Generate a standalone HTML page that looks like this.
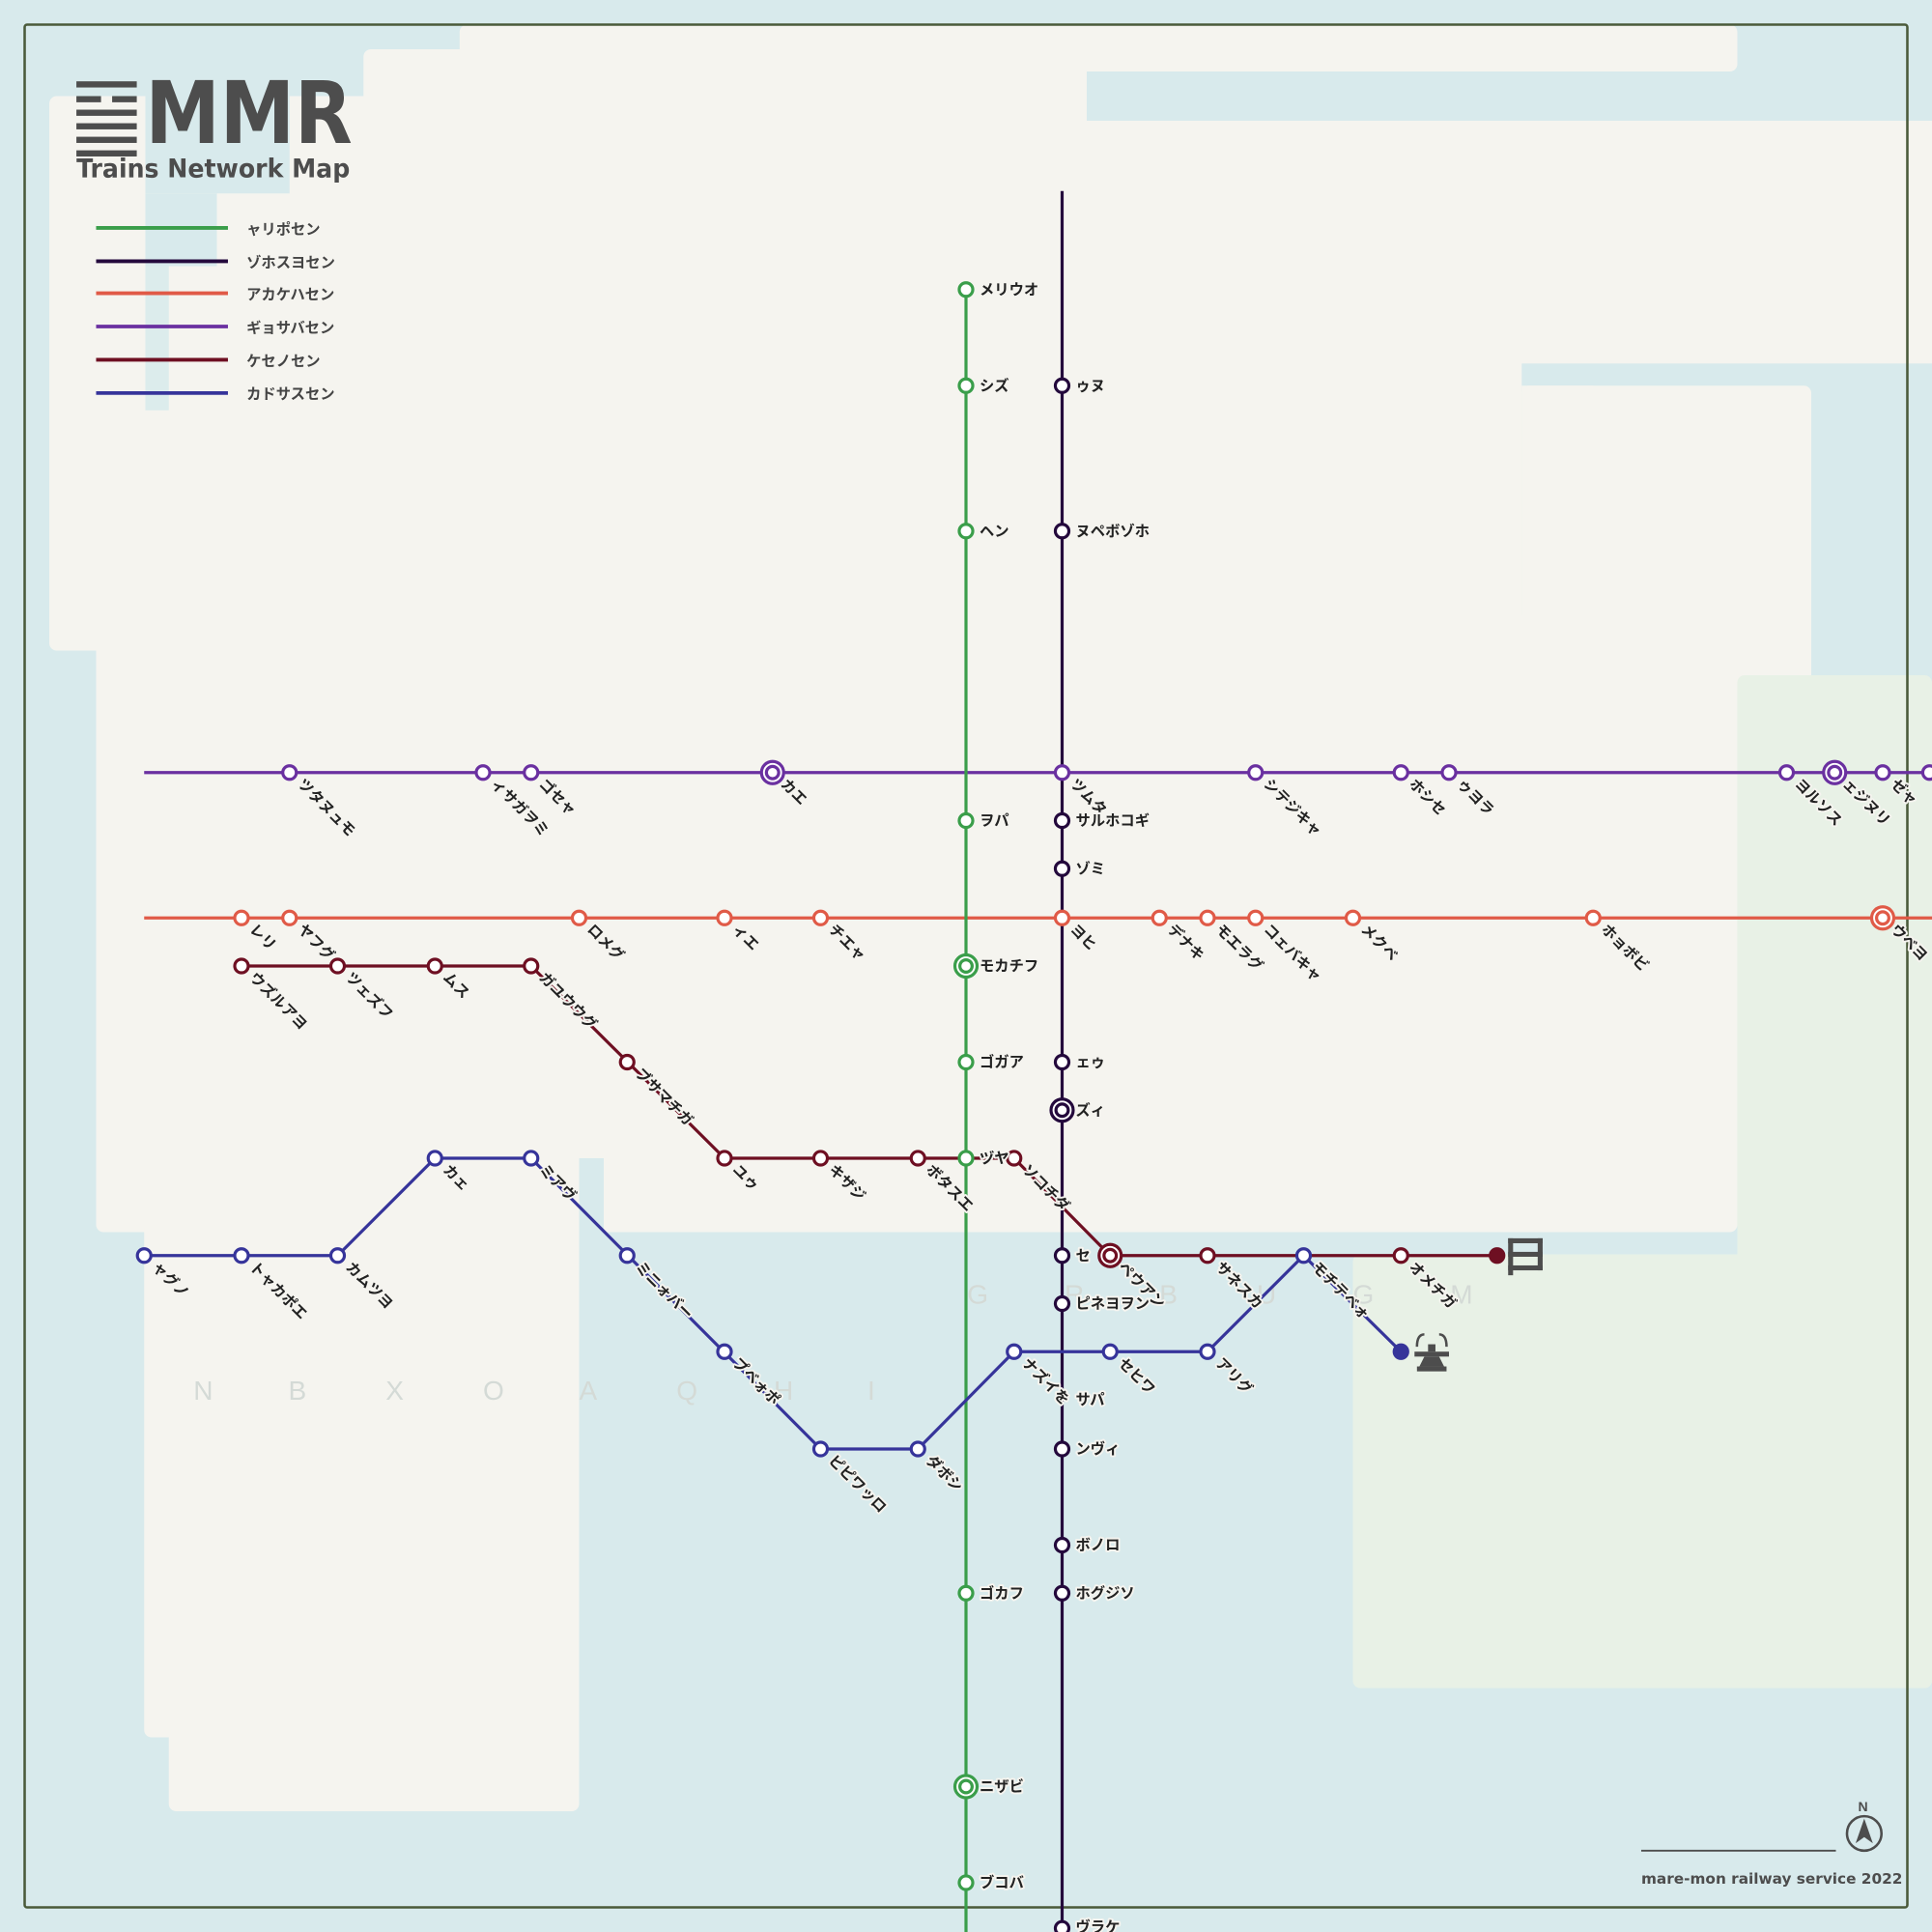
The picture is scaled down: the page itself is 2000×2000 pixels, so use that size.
<!DOCTYPE html>
<html><head><meta charset="utf-8"><style>
html,body{margin:0;padding:0;background:#d8eaec}
svg{display:block}
.l{font-family:"Liberation Sans","Noto Sans CJK JP",sans-serif;font-size:12px;font-weight:bold;fill:#222;stroke:#f5f4ef;stroke-width:3;paint-order:stroke;stroke-linejoin:round}
.g{font-family:"Liberation Sans",sans-serif;font-size:22px;fill:#d4dad6}
circle{fill:#fff;stroke-width:2.5}
</style></head><body>
<svg width="2000" height="2000" viewBox="0 0 1568 1568" xmlns="http://www.w3.org/2000/svg">
<rect width="1568" height="1568" fill="#d8eaec"/>
<g fill="#f5f4ef">
<rect x="373" y="20" width="1037" height="38" rx="6"/>
<rect x="295" y="40" width="587" height="280" rx="6"/>
<rect x="882" y="98" width="686" height="197"/>
<rect x="175" y="155" width="1060" height="400" rx="6"/>
<rect x="1235" y="313" width="58" height="240"/>
<rect x="1235" y="313" width="235" height="240" rx="6"/>
<rect x="40" y="78" width="700" height="450" rx="6"/>
<rect x="78" y="500" width="1332" height="500" rx="6"/>
<rect x="1400" y="540" width="70" height="20"/>
<rect x="117" y="990" width="353" height="420" rx="6"/>
<rect x="137" y="1380" width="333" height="90" rx="6"/>
</g>
<rect x="118" y="0" width="117" height="157" fill="#d8eaec"/>
<rect x="118" y="157" width="58" height="59" fill="#d8eaec"/>
<rect x="118" y="216" width="19" height="117" fill="#dcecec"/>
<rect x="470" y="940" width="20" height="62" fill="#d8eaec"/>
<g fill="#e8f1e6">
<rect x="1410" y="548" width="158" height="822" rx="6"/>
<rect x="1098" y="1018" width="470" height="352" rx="6"/>
</g>
<rect x="20" y="20" width="1528" height="1528" fill="none" stroke="#4a5a3a" stroke-width="2" rx="2"/>

<g fill="#4d4d4d">
<rect x="62" y="66" width="49" height="5"/><rect x="62" y="78" width="20" height="5"/><rect x="91" y="78" width="20" height="5"/>
<rect x="62" y="89" width="49" height="5"/><rect x="62" y="100" width="49" height="5"/><rect x="62" y="111" width="49" height="5"/><rect x="62" y="122" width="49" height="5"/>
</g>
<text x="118" y="116" font-family="DejaVu Sans,Liberation Sans,sans-serif" font-size="70" font-weight="bold" fill="#4d4d4d" textLength="168" lengthAdjust="spacingAndGlyphs">MMR</text>
<text x="62" y="144" font-family="DejaVu Sans,Liberation Sans,sans-serif" font-size="21" font-weight="bold" fill="#4d4d4d" textLength="222" lengthAdjust="spacingAndGlyphs">Trains Network Map</text>
<g stroke-width="3">
<line x1="78" y1="185" x2="185" y2="185" stroke="#3a9e4a"/>
<line x1="78" y1="212" x2="185" y2="212" stroke="#24093c"/>
<line x1="78" y1="238" x2="185" y2="238" stroke="#e05a47"/>
<line x1="78" y1="265" x2="185" y2="265" stroke="#6a30a0"/>
<line x1="78" y1="292" x2="185" y2="292" stroke="#6e0f22"/>
<line x1="78" y1="319" x2="185" y2="319" stroke="#36349a"/>
</g>
<g class="l" style="stroke:none;fill:#444">
<text x="200" y="190">ャリポセン</text><text x="200" y="217">ゾホスヨセン</text><text x="200" y="243">アカケハセン</text>
<text x="200" y="270">ギョサバセン</text><text x="200" y="297">ケセノセン</text><text x="200" y="324">カドサスセン</text>
</g>

<g class="g">
<text x="157" y="1136">N</text><text x="234" y="1136">B</text><text x="313" y="1136">X</text><text x="392" y="1136">O</text><text x="470" y="1136">A</text><text x="549" y="1136">Q</text><text x="628" y="1136">H</text><text x="704" y="1136">I</text>
<text x="785" y="1058">G</text><text x="864" y="1058">R</text><text x="941" y="1058">B</text><text x="1020" y="1058">U</text><text x="1098" y="1058">G</text><text x="1177" y="1058">M</text>
</g>

<g fill="none" stroke-width="2.5" stroke-linejoin="round">
<line x1="117" y1="627" x2="1568" y2="627" stroke="#6a30a0"/>
<line x1="117" y1="745" x2="1568" y2="745" stroke="#e05a47"/>
<line x1="784" y1="235" x2="784" y2="1568" stroke="#3a9e4a"/>
<line x1="862" y1="155" x2="862" y2="1568" stroke="#24093c"/>
<polyline points="196,784 431,784 588,940 823,940 901,1019 1215,1019" stroke="#6e0f22"/>
<polyline points="117,1019 274,1019 353,940 431,940 666,1176 745,1176 823,1097 980,1097 1058,1019 1137,1097" stroke="#36349a"/>
</g>

<g stroke="#3a9e4a">
<circle cx="784" cy="235" r="5.5"/><circle cx="784" cy="313" r="5.5"/><circle cx="784" cy="431" r="5.5"/><circle cx="784" cy="666" r="5.5"/>
<circle cx="784" cy="784" r="9"/><circle cx="784" cy="784" r="5"/><circle cx="784" cy="862" r="5.5"/><circle cx="784" cy="940" r="5.5"/>
<circle cx="784" cy="1293" r="5.5"/><circle cx="784" cy="1450" r="9"/><circle cx="784" cy="1450" r="5"/><circle cx="784" cy="1528" r="5.5"/>
</g>
<g stroke="#24093c">
<circle cx="862" cy="313" r="5.5"/><circle cx="862" cy="431" r="5.5"/><circle cx="862" cy="666" r="5.5"/><circle cx="862" cy="705" r="5.5"/>
<circle cx="862" cy="862" r="5.5"/><circle cx="862" cy="901" r="9"/><circle cx="862" cy="901" r="5"/><circle cx="862" cy="1019" r="5.5"/>
<circle cx="862" cy="1058" r="5.5"/><circle cx="862" cy="1176" r="5.5"/><circle cx="862" cy="1254" r="5.5"/><circle cx="862" cy="1293" r="5.5"/><circle cx="862" cy="1565" r="5.5"/>
</g>
<g stroke="#6a30a0">
<circle cx="235" cy="627" r="5.5"/><circle cx="392" cy="627" r="5.5"/><circle cx="431" cy="627" r="5.5"/><circle cx="627" cy="627" r="9"/><circle cx="627" cy="627" r="5"/>
<circle cx="862" cy="627" r="5.5"/><circle cx="1019" cy="627" r="5.5"/><circle cx="1137" cy="627" r="5.5"/><circle cx="1176" cy="627" r="5.5"/>
<circle cx="1450" cy="627" r="5.5"/><circle cx="1489" cy="627" r="9"/><circle cx="1489" cy="627" r="5"/><circle cx="1528" cy="627" r="5.5"/><circle cx="1566" cy="627" r="5.5"/>
</g>
<g stroke="#e05a47">
<circle cx="196" cy="745" r="5.5"/><circle cx="235" cy="745" r="5.5"/><circle cx="470" cy="745" r="5.5"/><circle cx="588" cy="745" r="5.5"/><circle cx="666" cy="745" r="5.5"/>
<circle cx="862" cy="745" r="5.5"/><circle cx="941" cy="745" r="5.5"/><circle cx="980" cy="745" r="5.5"/><circle cx="1019" cy="745" r="5.5"/><circle cx="1098" cy="745" r="5.5"/>
<circle cx="1293" cy="745" r="5.5"/><circle cx="1528" cy="745" r="9"/><circle cx="1528" cy="745" r="5"/>
</g>
<g stroke="#6e0f22">
<circle cx="196" cy="784" r="5.5"/><circle cx="274" cy="784" r="5.5"/><circle cx="353" cy="784" r="5.5"/><circle cx="431" cy="784" r="5.5"/><circle cx="509" cy="862" r="5.5"/>
<circle cx="588" cy="940" r="5.5"/><circle cx="666" cy="940" r="5.5"/><circle cx="745" cy="940" r="5.5"/><circle cx="823" cy="940" r="5.5"/>
<circle cx="901" cy="1019" r="9"/><circle cx="901" cy="1019" r="5"/><circle cx="980" cy="1019" r="5.5"/><circle cx="1137" cy="1019" r="5.5"/>
<circle cx="1215" cy="1019" r="5.5" style="fill:#6e0f22"/>
</g>
<g stroke="#36349a">
<circle cx="117" cy="1019" r="5.5"/><circle cx="196" cy="1019" r="5.5"/><circle cx="274" cy="1019" r="5.5"/><circle cx="353" cy="940" r="5.5"/><circle cx="431" cy="940" r="5.5"/>
<circle cx="509" cy="1019" r="5.5"/><circle cx="588" cy="1097" r="5.5"/><circle cx="666" cy="1176" r="5.5"/><circle cx="745" cy="1176" r="5.5"/><circle cx="823" cy="1097" r="5.5"/>
<circle cx="901" cy="1097" r="5.5"/><circle cx="980" cy="1097" r="5.5"/><circle cx="1058" cy="1019" r="5.5"/><circle cx="1137" cy="1097" r="5.5" style="fill:#36349a"/>
</g>

<g class="l">
<text x="795" y="239">メリウオ</text><text x="795" y="317">シズ</text><text x="795" y="435">ヘン</text><text x="795" y="670">ヲパ</text>
<text x="795" y="788">モカチフ</text><text x="795" y="866">ゴガア</text><text x="795" y="944">ヅヤ</text><text x="795" y="1297">ゴカフ</text>
<text x="795" y="1454">ニザビ</text><text x="795" y="1532">ブコバ</text>
<text x="873" y="317">ゥヌ</text><text x="873" y="435">ヌペボゾホ</text><text x="873" y="670">サルホコギ</text><text x="873" y="709">ゾミ</text>
<text x="873" y="866">ェゥ</text><text x="873" y="905">ズィ</text><text x="873" y="1023">セ</text><text x="873" y="1062">ピネヨヲン</text>
<text x="873" y="1140">サパ</text><text x="873" y="1180">ンヴィ</text><text x="873" y="1258">ボノロ</text><text x="873" y="1297">ホグジソ</text><text x="873" y="1568">ヴラケ</text>
</g>

<g class="l">
<text transform="translate(241,637) rotate(45)">ツタヌュモ</text>
<text transform="translate(398,637) rotate(45)">ィサガヲミ</text>
<text transform="translate(437,637) rotate(45)">ゴセャ</text>
<text transform="translate(633,637) rotate(45)">カエ</text>
<text transform="translate(868,637) rotate(45)">ツムタ</text>
<text transform="translate(1025,637) rotate(45)">シテジキャ</text>
<text transform="translate(1143,637) rotate(45)">ホシセ</text>
<text transform="translate(1182,637) rotate(45)">ゥヨラ</text>
<text transform="translate(1456,637) rotate(45)">ヨルソス</text>
<text transform="translate(1495,637) rotate(45)">ェジヌリ</text>
<text transform="translate(1534,637) rotate(45)">ゼャ</text>

<text transform="translate(202,755) rotate(45)">レリ</text>
<text transform="translate(241,755) rotate(45)">ヤフグ</text>
<text transform="translate(476,755) rotate(45)">ロメグ</text>
<text transform="translate(594,755) rotate(45)">ィエ</text>
<text transform="translate(672,755) rotate(45)">チエャ</text>
<text transform="translate(868,755) rotate(45)">ヨヒ</text>
<text transform="translate(947,755) rotate(45)">デナキ</text>
<text transform="translate(986,755) rotate(45)">モエラグ</text>
<text transform="translate(1025,755) rotate(45)">コェバキャ</text>
<text transform="translate(1104,755) rotate(45)">メクベ</text>
<text transform="translate(1299,755) rotate(45)">ホョボビ</text>
<text transform="translate(1534,755) rotate(45)">ウベヨ</text>

<text transform="translate(202,794) rotate(45)">ウズルアヨ</text>
<text transform="translate(280,794) rotate(45)">ツェズフ</text>
<text transform="translate(359,794) rotate(45)">ムス</text>
<text transform="translate(437,794) rotate(45)">ガユウウグ</text>
<text transform="translate(515,872) rotate(45)">ブサマチガ</text>
<text transform="translate(594,950) rotate(45)">ユゥ</text>
<text transform="translate(672,950) rotate(45)">キザジ</text>
<text transform="translate(751,950) rotate(45)">ボタスエ</text>
<text transform="translate(829,950) rotate(45)">ソコチダ</text>
<text transform="translate(907,1029) rotate(45)">ペウアン</text>
<text transform="translate(986,1029) rotate(45)">サネスカ</text>
<text transform="translate(1064,1029) rotate(45)">モチテベォ</text>
<text transform="translate(1143,1029) rotate(45)">オメチガ</text>

<text transform="translate(123,1029) rotate(45)">ャグノ</text>
<text transform="translate(202,1029) rotate(45)">トャカポエ</text>
<text transform="translate(280,1029) rotate(45)">カムツヨ</text>
<text transform="translate(359,950) rotate(45)">カェ</text>
<text transform="translate(437,950) rotate(45)">ミアヴ</text>
<text transform="translate(515,1029) rotate(45)">ミニォバー</text>
<text transform="translate(594,1107) rotate(45)">プベォポ</text>
<text transform="translate(672,1186) rotate(45)">ピピワッロ</text>
<text transform="translate(751,1186) rotate(45)">ダボシ</text>
<text transform="translate(829,1107) rotate(45)">ナズイを</text>
<text transform="translate(907,1107) rotate(45)">セヒワ</text>
<text transform="translate(986,1107) rotate(45)">アリグ</text>
</g>

<g fill="#4d4d4d">
<rect x="1224" y="1005" width="4" height="30"/>
<rect x="1224" y="1005" width="28" height="4"/><rect x="1224" y="1016" width="28" height="4"/><rect x="1224" y="1027" width="28" height="4"/>
<rect x="1248" y="1005" width="4" height="26"/>
</g>
<g fill="#4d4d4d">
<rect x="1159" y="1091" width="6" height="6"/>
<rect x="1148" y="1097" width="28" height="4"/>
<path d="M1156,1101 h12 l4,8 h-20 z"/>
<rect x="1150" y="1109" width="24" height="4"/>
<path d="M1150,1093 q0,-10 6,-10 M1174,1093 q0,-10 -6,-10" fill="none" stroke="#4d4d4d" stroke-width="2"/>
</g>

<line x1="1332" y1="1502" x2="1490" y2="1502" stroke="#4d4d4d" stroke-width="1.5"/>
<circle cx="1513" cy="1488" r="14" style="fill:none;stroke:#4d4d4d;stroke-width:2"/>
<path d="M1513,1476 l7,20 l-7,-5 l-7,5 z" fill="#4d4d4d"/>
<text x="1508" y="1470" font-family="Liberation Sans,sans-serif" font-size="11" font-weight="bold" fill="#4d4d4d">N</text>
<text x="1332" y="1529" font-family="DejaVu Sans,Liberation Sans,sans-serif" font-size="12" font-weight="bold" fill="#4d4d4d">mare-mon railway service 2022</text>
</svg>
</body></html>
